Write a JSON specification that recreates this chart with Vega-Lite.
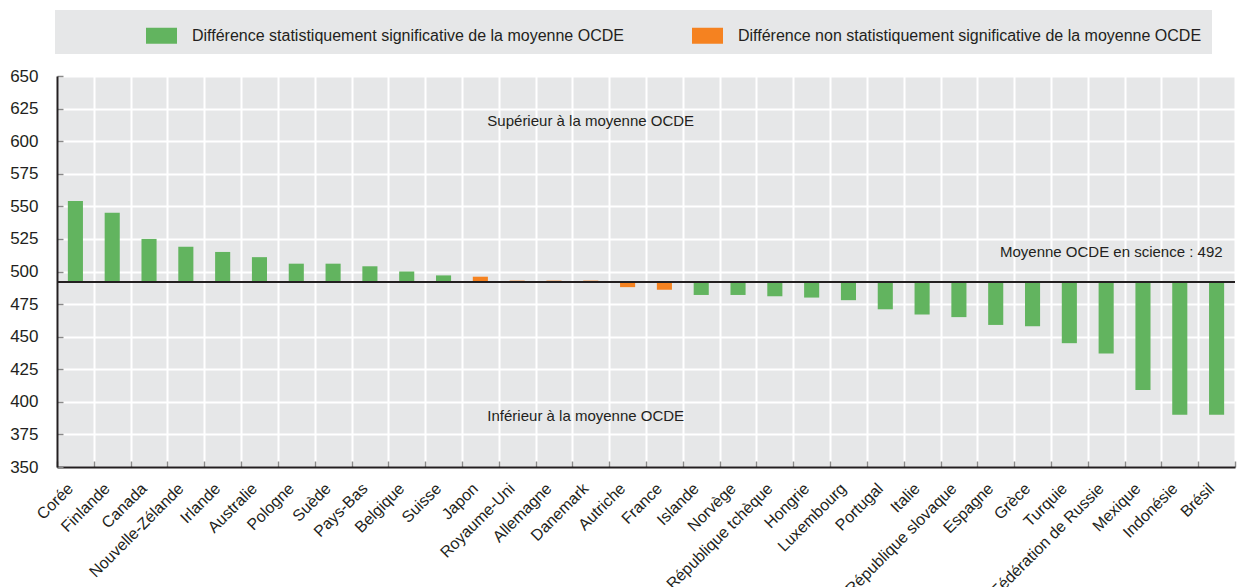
{
  "$schema": "https://vega.github.io/schema/vega-lite/v6.json",
  "width": 1178,
  "height": 391,
  "autosize": {"type": "none"},
  "padding": {"left": 57, "top": 76, "right": 6, "bottom": 120},
  "background": "white",
  "config": {
    "view": {"fill": "#e6e7e8", "stroke": null},
    "font": "Liberation Sans Narrow, Arial Narrow, Liberation Sans, sans-serif",
    "axis": {
      "labelFont": "Liberation Sans Narrow, Arial Narrow, Liberation Sans, sans-serif",
      "labelFontSize": 17,
      "labelColor": "#231f20",
      "domainColor": "#231f20",
      "domainWidth": 2,
      "gridColor": "#ffffff",
      "gridWidth": 2,
      "gridOpacity": 1,
      "tickColor": "#8a8a8a",
      "tickWidth": 1.5,
      "title": null
    },
    "legend": {
      "labelFont": "Liberation Sans Narrow, Arial Narrow, Liberation Sans, sans-serif",
      "labelFontSize": 16,
      "labelColor": "#231f20"
    }
  },
  "datasets": {
    "scores": [
      {"country": "Corée", "score": 554, "mean": 492, "sig": "Différence statistiquement significative de la moyenne OCDE"},
      {"country": "Finlande", "score": 545, "mean": 492, "sig": "Différence statistiquement significative de la moyenne OCDE"},
      {"country": "Canada", "score": 525, "mean": 492, "sig": "Différence statistiquement significative de la moyenne OCDE"},
      {"country": "Nouvelle-Zélande", "score": 519, "mean": 492, "sig": "Différence statistiquement significative de la moyenne OCDE"},
      {"country": "Irlande", "score": 515, "mean": 492, "sig": "Différence statistiquement significative de la moyenne OCDE"},
      {"country": "Australie", "score": 511, "mean": 492, "sig": "Différence statistiquement significative de la moyenne OCDE"},
      {"country": "Pologne", "score": 506, "mean": 492, "sig": "Différence statistiquement significative de la moyenne OCDE"},
      {"country": "Suède", "score": 506, "mean": 492, "sig": "Différence statistiquement significative de la moyenne OCDE"},
      {"country": "Pays-Bas", "score": 504, "mean": 492, "sig": "Différence statistiquement significative de la moyenne OCDE"},
      {"country": "Belgique", "score": 500, "mean": 492, "sig": "Différence statistiquement significative de la moyenne OCDE"},
      {"country": "Suisse", "score": 497, "mean": 492, "sig": "Différence statistiquement significative de la moyenne OCDE"},
      {"country": "Japon", "score": 496, "mean": 492, "sig": "Différence non statistiquement significative de la moyenne OCDE"},
      {"country": "Royaume-Uni", "score": 493, "mean": 492, "sig": "Différence non statistiquement significative de la moyenne OCDE"},
      {"country": "Allemagne", "score": 493, "mean": 492, "sig": "Différence non statistiquement significative de la moyenne OCDE"},
      {"country": "Danemark", "score": 493, "mean": 492, "sig": "Différence non statistiquement significative de la moyenne OCDE"},
      {"country": "Autriche", "score": 488, "mean": 492, "sig": "Différence non statistiquement significative de la moyenne OCDE"},
      {"country": "France", "score": 486, "mean": 492, "sig": "Différence non statistiquement significative de la moyenne OCDE"},
      {"country": "Islande", "score": 482, "mean": 492, "sig": "Différence statistiquement significative de la moyenne OCDE"},
      {"country": "Norvège", "score": 482, "mean": 492, "sig": "Différence statistiquement significative de la moyenne OCDE"},
      {"country": "République tchèque", "score": 481, "mean": 492, "sig": "Différence statistiquement significative de la moyenne OCDE"},
      {"country": "Hongrie", "score": 480, "mean": 492, "sig": "Différence statistiquement significative de la moyenne OCDE"},
      {"country": "Luxembourg", "score": 478, "mean": 492, "sig": "Différence statistiquement significative de la moyenne OCDE"},
      {"country": "Portugal", "score": 471, "mean": 492, "sig": "Différence statistiquement significative de la moyenne OCDE"},
      {"country": "Italie", "score": 467, "mean": 492, "sig": "Différence statistiquement significative de la moyenne OCDE"},
      {"country": "République slovaque", "score": 465, "mean": 492, "sig": "Différence statistiquement significative de la moyenne OCDE"},
      {"country": "Espagne", "score": 459, "mean": 492, "sig": "Différence statistiquement significative de la moyenne OCDE"},
      {"country": "Grèce", "score": 458, "mean": 492, "sig": "Différence statistiquement significative de la moyenne OCDE"},
      {"country": "Turquie", "score": 445, "mean": 492, "sig": "Différence statistiquement significative de la moyenne OCDE"},
      {"country": "Fédération de Russie", "score": 437, "mean": 492, "sig": "Différence statistiquement significative de la moyenne OCDE"},
      {"country": "Mexique", "score": 409, "mean": 492, "sig": "Différence statistiquement significative de la moyenne OCDE"},
      {"country": "Indonésie", "score": 390, "mean": 492, "sig": "Différence statistiquement significative de la moyenne OCDE"},
      {"country": "Brésil", "score": 390, "mean": 492, "sig": "Différence statistiquement significative de la moyenne OCDE"}
    ],
    "reference": [{"country": "Corée", "score": 492}],
    "notesLeft": [
      {"country": "Japon", "score": 615.5, "label": "Supérieur à la moyenne OCDE"},
      {"country": "Japon", "score": 389, "label": "Inférieur à la moyenne OCDE"}
    ],
    "notesRight": [
      {"country": "Brésil", "score": 515, "label": "Moyenne OCDE en science : 492"}
    ]
  },
  "encoding": {
    "x": {
      "field": "country", "type": "nominal", "sort": null,
      "scale": {"paddingInner": 0, "paddingOuter": 0},
      "axis": {
        "labelAngle": -45,
        "tickBand": "extent",
        "grid": true,
        "ticks": true,
        "tickSize": -6,
        "labelPadding": 19,
        "labelOffset": -11,
        "labelFontSize": 16
      }
    },
    "y": {
      "field": "score", "type": "quantitative",
      "scale": {"domain": [350, 650], "nice": false, "zero": false},
      "axis": {
        "values": [350, 375, 400, 425, 450, 475, 500, 525, 550, 575, 600, 625, 650],
        "grid": true,
        "tickSize": -6,
        "labelPadding": 25,
        "labelOverlap": false
      }
    }
  },
  "layer": [
    {
      "data": {"name": "scores"},
      "mark": {"type": "bar", "width": {"band": 0.41}},
      "encoding": {
        "y2": {"field": "mean"},
        "color": {
          "field": "sig", "type": "nominal",
          "scale": {
            "domain": ["Différence statistiquement significative de la moyenne OCDE", "Différence non statistiquement significative de la moyenne OCDE"],
            "range": ["#62b45f", "#f58220"]
          },
          "legend": {
            "title": " ",
            "titleOrient": "left",
            "titleFontSize": 2,
            "titlePadding": 81,
            "orient": "none",
            "direction": "horizontal",
            "legendX": -2,
            "legendY": -66,
            "fillColor": "#e6e7e8",
            "padding": 10,
            "symbolType": "M-1,-0.516H1V0.516H-1Z",
            "symbolSize": 961,
            "symbolStrokeWidth": 0,
            "symbolOpacity": 1,
            "labelOffset": 15,
            "columnPadding": 68,
            "labelLimit": 600
          }
        }
      }
    },
    {
      "data": {"name": "reference"},
      "mark": {"type": "rule", "color": "#231f20", "strokeWidth": 2},
      "encoding": {"x": {"value": 0}, "x2": {"value": 1178}}
    },
    {
      "data": {"name": "notesLeft"},
      "mark": {"type": "text", "align": "left", "baseline": "middle", "fontSize": 15, "color": "#231f20", "dx": 7},
      "encoding": {"text": {"field": "label"}}
    },
    {
      "data": {"name": "notesRight"},
      "mark": {"type": "text", "align": "right", "baseline": "middle", "fontSize": 15, "color": "#231f20", "dx": 6},
      "encoding": {"text": {"field": "label"}}
    }
  ]
}
